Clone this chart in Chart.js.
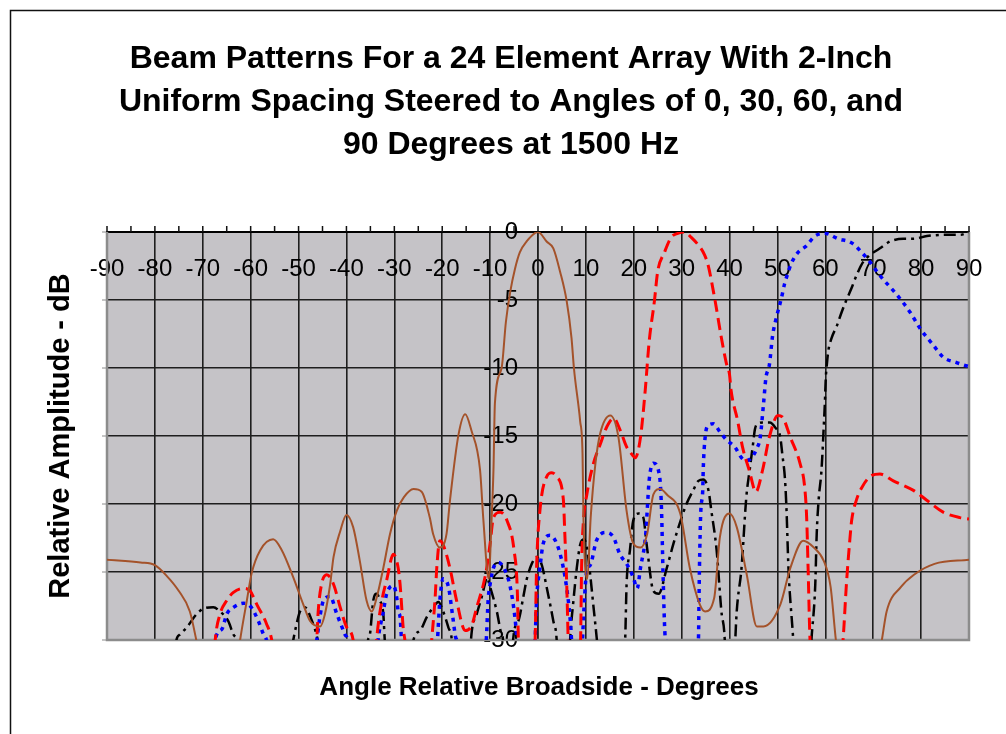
<!DOCTYPE html>
<html lang="en">
<head>
<meta charset="UTF-8">
<title>Beam Patterns</title>
<script src="https://cdn.jsdelivr.net/npm/chart.js"></script>
<style>
  html, body { margin: 0; padding: 0; background: #fff; }
  canvas { display: block; }
</style>
</head>
<body>
<canvas id="beamChart" width="1006" height="734"></canvas>
<script>
// values: [angle in degrees, relative amplitude in dB]
// points below -30 dB are only there so the line dives out of the plot at the nulls
const steer0 = [
  [-90,-24.1],[-83,-24.3],[-80,-24.5],[-77.5,-25.3],[-75,-26.4],[-72.7,-27.9],[-71.3,-30.1],[-66,-40],
  [-62.2,-30],[-60.8,-27.1],[-59.8,-25.1],[-58,-23.4],[-55.3,-22.6],[-53.5,-23.4],[-51.1,-25.4],[-49,-27.4],
  [-47.6,-28.6],[-45.5,-29],[-44.5,-28.1],[-43.4,-25.9],[-42.7,-23.9],[-41.3,-22],[-40,-20.8],[-38.6,-21.7],
  [-37.2,-24.2],[-35.8,-27.1],[-34.7,-27.9],[-33.7,-26.9],[-32.3,-24.7],[-30.9,-22.2],[-29.5,-20.5],[-28,-19.5],
  [-26,-18.9],[-24.3,-19.1],[-22.6,-21],[-21.9,-22.2],[-20.5,-23.2],[-19.1,-22.2],[-18.4,-19.8],[-16.6,-14.9],
  [-15.2,-13.4],[-13.9,-14.6],[-12.1,-17.5],[-11.4,-21.2],[-10.3,-25.5],[-9.7,-21.2],[-9.3,-17.5],[-9,-12.6],
  [-7.6,-10],[-6.7,-6.6],[-5.8,-4.4],[-4.8,-2.7],[-3.8,-1.5],[-2.4,-0.7],[0,0],[1.8,-0.7],[3.2,-1.2],
  [4.6,-2.9],[6,-5.1],[7,-7.8],[7.5,-10],[8.8,-13.9],[9.3,-16.3],[9.5,-21.2],[10.3,-25.5],[11,-21],[12,-17],
  [13,-14.8],[15.1,-13.5],[16.8,-15.1],[18.5,-20.5],[19.9,-22.9],[21.4,-23.2],[22.8,-22.2],[24.1,-19.3],
  [25.5,-18.9],[26.9,-19.3],[29.7,-20.7],[31.7,-24.7],[33.8,-27.4],[34.9,-27.9],[36.8,-26.9],[38,-22.4],
  [40,-20.7],[41.5,-21.7],[43.6,-25.2],[45.7,-29],[47.1,-29],[50.6,-27.4],[52.7,-24.7],[55.4,-22.7],
  [57.6,-23.2],[59.7,-24.2],[61.1,-26.1],[62.2,-30],[66,-40],[71.8,-30],[72.8,-27.9],[75.8,-26.1],
  [78.5,-25.2],[82.8,-24.4],[90,-24.1]
];

const steer30 = [
  [-70,-45],[-67.4,-30],[-66.4,-28.1],[-65,-27.1],[-63.6,-26.5],[-61.5,-26.2],[-60.1,-26.4],[-58.7,-27.4],
  [-56.7,-28.8],[-55.6,-30],[-51,-42],[-46.2,-30],[-45.9,-27.9],[-45.2,-25.9],[-44.1,-25.2],[-42.7,-25.9],
  [-41.3,-27.6],[-39.9,-29.1],[-38.6,-30],[-36,-42],[-33.7,-30],[-32.6,-27.1],[-31.6,-25.6],[-30.2,-23.7],
  [-29.2,-24.7],[-28.8,-25.9],[-28.1,-29.3],[-27.8,-30],[-25,-42],[-22.2,-30],[-21.5,-27],[-21.1,-24.5],
  [-20.5,-22.7],[-19.8,-23],[-18.4,-24.7],[-17,-27.1],[-15.2,-29.3],[-13.8,-28.9],[-12.8,-27.6],[-11.4,-25.9],
  [-10.7,-24.7],[-10,-22.9],[-9.3,-21],[-7.9,-20.6],[-6.5,-21.2],[-5,-23.4],[-4.3,-26.6],[-4.1,-30],
  [-2.4,-42],[-0.6,-30],[-0.3,-24.7],[0.4,-20.5],[1.8,-18],[2.9,-17.7],[3.9,-18],[5.3,-19.7],[5.6,-22.2],
  [6,-25.9],[6.3,-30],[7.6,-42],[8.9,-30],[9.1,-24.7],[9.5,-21.2],[10.2,-19.3],[11.6,-17],[13,-15.6],
  [14.4,-14.3],[15.8,-13.7],[17.2,-14.6],[18.5,-15.8],[19.3,-16.2],[20.3,-16.6],[21.4,-15.1],[22.4,-11.6],
  [23.2,-8.1],[24.3,-5.1],[25,-2.9],[26.4,-1.5],[27.8,-0.4],[29.2,-0.1],[30.6,0],[32,-0.4],[34,-1.2],
  [34.8,-1.7],[35.5,-2.4],[36.9,-4.9],[38.3,-7.8],[39.3,-9.6],[40,-10.5],[40.3,-11.6],[41.7,-13.9],
  [42.7,-15.8],[44.1,-17.5],[45.5,-19.1],[46.9,-17.5],[48.3,-15.1],[50.1,-13.5],[51,-13.6],[52.7,-15.1],
  [54.7,-17],[55.7,-18.8],[56.1,-21],[56.4,-24.7],[56.8,-30],[60,-42],[63.7,-30],[64.4,-25.9],[65.1,-22.7],
  [65.5,-21.2],[66.5,-19.7],[67.6,-18.8],[69.7,-17.9],[71.4,-17.8],[74.2,-18.3],[78.4,-19],[81.1,-19.7],
  [84.6,-20.6],[88.1,-21],[90,-21.1]
];

const steer60 = [
  [-70,-45],[-67.4,-30],[-66,-29.2],[-65,-28.1],[-63.6,-27.6],[-61.5,-27.3],[-60.1,-27.5],[-58.4,-28.6],
  [-57.3,-29.6],[-56.7,-30],[-51.5,-42],[-46.2,-30],[-45.5,-28.2],[-44.8,-27.1],[-43.4,-26.8],[-42,-28.1],
  [-40.3,-29.6],[-39.8,-30],[-36.5,-42],[-33.4,-30],[-32.3,-27.9],[-31.6,-26.6],[-30.2,-26],[-29.5,-26.9],
  [-29.2,-27.9],[-28.8,-28.3],[-28.5,-30],[-24.5,-42],[-21,-30],[-20.5,-27.1],[-19.8,-25.5],[-18.7,-26.1],
  [-17.8,-28.3],[-17.2,-29.8],[-17,-30],[-14,-42],[-10.8,-30],[-10.4,-27],[-10,-25.9],[-9.3,-24.7],
  [-8.3,-24.3],[-7,-24.8],[-5.8,-26.1],[-4.8,-28.4],[-4.4,-30],[-2.5,-42],[-0.6,-30],[-0.3,-27.1],
  [0.4,-24.7],[1.1,-22.9],[2.5,-22.3],[3.9,-22.9],[5.3,-24.7],[6,-26.2],[6.7,-28.4],[7,-30],[8.2,-42],
  [9.3,-30],[10.2,-24.9],[10.9,-24.5],[12.2,-22.7],[14,-22.1],[15.7,-22.4],[17.1,-23.7],[18.5,-24.4],
  [19.9,-25.4],[20.7,-26.2],[21.4,-24.7],[22.5,-22.2],[22.8,-20.5],[23.2,-18.3],[24.1,-17],[25.4,-18],
  [25.8,-20.5],[26.1,-25],[26.5,-29.5],[26.7,-30],[30,-42],[33.5,-30],[33.7,-25],[34,-20.5],[34.4,-19],
  [34.5,-17.5],[34.9,-15.1],[35.6,-14.2],[36.6,-14.1],[38,-14.7],[39.4,-15.3],[41.1,-15.8],[42.5,-16.6],
  [43.6,-16.8],[44.6,-16.6],[45.7,-15.9],[46.4,-15.1],[47.1,-12.6],[47.6,-10.7],[48.3,-9.8],[49,-7.6],
  [49.7,-6.4],[50.8,-4.9],[51.5,-3.8],[52.2,-3],[52.9,-2.3],[54.3,-1.5],[56.1,-1],[57.8,-0.3],[59.9,-0.1],
  [62.7,-0.5],[65.5,-0.8],[67.6,-1.5],[69.3,-2.2],[71.4,-3.2],[74.9,-4.6],[77.7,-5.9],[79.8,-7.1],
  [82.5,-8.3],[84.6,-9.2],[87.4,-9.6],[90,-9.9]
];

const steer90 = [
  [-80,-45],[-75.5,-30],[-74.8,-29.6],[-73.4,-29.1],[-71.3,-28.1],[-69.9,-27.7],[-67.8,-27.6],[-66.4,-27.9],
  [-64.7,-28.6],[-63.6,-29.6],[-62.9,-30],[-57,-42],[-51.1,-30],[-50.4,-28.8],[-49.7,-27.9],[-48.7,-27.6],
  [-47.3,-28.5],[-46,-30],[-40.5,-42],[-35.5,-30],[-35.1,-29.6],[-34.4,-27.1],[-33.7,-26.6],[-33,-27.1],
  [-32.3,-28.1],[-32,-30],[-29,-42],[-26,-30],[-24.6,-29.3],[-23.2,-28.3],[-21.9,-27.6],[-20.8,-27.2],
  [-19.8,-27.9],[-18.7,-29.1],[-18,-30],[-16,-42],[-13.9,-29.6],[-12.8,-28.1],[-11.8,-26.9],[-11.1,-25.9],
  [-10.7,-25.4],[-10,-26.1],[-8.6,-27.9],[-7.6,-29.6],[-7.3,-30],[-6.2,-42],[-5.2,-30],[-4.1,-28.6],
  [-3.1,-26.9],[-2.4,-25.6],[-1.3,-24.4],[-0.3,-23.9],[0.8,-24.5],[1.8,-26.1],[3.2,-28.6],[3.9,-30],
  [5.3,-42],[6.7,-30],[7.4,-27.1],[8.1,-24.7],[8.8,-23],[9.6,-22.6],[10.2,-23.2],[10.9,-25.2],[11.6,-27.6],
  [12.3,-30],[15.2,-42],[18.2,-30],[18.5,-25.9],[19.2,-23.4],[19.9,-21.2],[21,-20.7],[22,-21],[22.7,-23],
  [24.1,-26.4],[25.2,-26.6],[26.9,-24.7],[28.3,-22.9],[29.8,-21.2],[31,-20],[32.4,-19],[33.5,-18.3],
  [34.5,-18.2],[35.6,-19],[36.2,-20.5],[37.3,-23.4],[38.3,-27.9],[39,-30],[40.1,-42],[41.2,-30],
  [41.5,-27.9],[42.5,-24.7],[43.5,-19.5],[44.2,-17.5],[44.9,-15.6],[45.3,-14.5],[45.9,-14.1],[47,-14],
  [48.4,-14],[49.6,-14.4],[50.6,-15.1],[51,-16.3],[51.6,-18.3],[51.9,-20.5],[52.3,-24.7],[53.3,-30],
  [55.2,-42],[57.1,-30],[57.9,-25.9],[58.2,-22.2],[58.6,-19.7],[59.2,-17.5],[59.7,-14.1],[59.9,-12.6],
  [60.1,-10.7],[60.3,-9.8],[60.6,-8.8],[61.3,-7.8],[62.4,-6.9],[63.4,-5.9],[64.4,-5],[65.5,-4.1],
  [66.5,-3.2],[67.9,-2.2],[69.3,-1.7],[71.4,-1.2],[73.5,-0.7],[76.3,-0.5],[78.4,-0.5],[81.2,-0.3],
  [85.3,-0.2],[88.2,-0.2],[90,0]
];

const titleLines = [
  'Beam Patterns For a 24 Element Array With 2-Inch',
  'Uniform Spacing Steered to Angles of 0, 30, 60, and',
  '90 Degrees at 1500 Hz'
];
const xTitle = 'Angle Relative Broadside - Degrees';
const yTitle = 'Relative Amplitude - dB';

const FONT = '"Liberation Sans", Arial, sans-serif';

function toPoints(pairs) {
  return pairs.map(p => ({ x: p[0], y: p[1] }));
}

// plot background, frame, outside tick marks and the titles
const decor = {
  id: 'decor',
  beforeDraw(chart) {
    const { ctx, chartArea: a } = chart;
    ctx.save();
    ctx.fillStyle = '#fff';
    ctx.fillRect(0, 0, chart.width, chart.height);
    ctx.strokeStyle = '#111';
    ctx.lineWidth = 1.5;
    ctx.strokeRect(10.5, 10.5, chart.width + 20, chart.height + 20);
    ctx.fillStyle = '#c5c3c7';
    ctx.fillRect(a.left, a.top, a.right - a.left, a.bottom - a.top);
    ctx.restore();
  },
  beforeDatasetsDraw(chart) {
    const { ctx, chartArea: a, scales } = chart;
    ctx.save();
    ctx.strokeStyle = '#8c8c8c';
    ctx.lineWidth = 2.5;
    ctx.beginPath();
    ctx.moveTo(a.left, a.top);
    ctx.lineTo(a.left, a.bottom);
    ctx.lineTo(a.right, a.bottom);
    ctx.lineTo(a.right, a.top);
    ctx.stroke();
    // small ticks on the left edge
    ctx.lineWidth = 1.2;
    ctx.beginPath();
    for (let v = -30; v <= 0; v += 5) {
      const py = scales.y.getPixelForValue(v);
      ctx.moveTo(a.left - 5, py);
      ctx.lineTo(a.left, py);
    }
    ctx.stroke();
    // ticks above the top axis every 5 degrees
    ctx.strokeStyle = '#111';
    ctx.lineWidth = 1.5;
    ctx.beginPath();
    for (let v = -90; v <= 90; v += 5) {
      const px = scales.x.getPixelForValue(v);
      ctx.moveTo(px, a.top - 6);
      ctx.lineTo(px, a.top);
    }
    ctx.stroke();
    ctx.restore();
  },
  afterDraw(chart) {
    const { ctx } = chart;
    ctx.save();
    ctx.fillStyle = '#000';
    ctx.textAlign = 'center';
    ctx.textBaseline = 'alphabetic';
    ctx.font = 'bold 32px ' + FONT;
    titleLines.forEach((line, i) => ctx.fillText(line, 511, 68 + i * 43));
    ctx.font = 'bold 26px ' + FONT;
    ctx.fillText(xTitle, 539, 695);
    ctx.translate(69, 436);
    ctx.rotate(-Math.PI / 2);
    ctx.font = 'bold 29px ' + FONT;
    ctx.fillText(yTitle, 0, 0);
    ctx.restore();
  }
};

const ctx = document.getElementById('beamChart').getContext('2d');
new Chart(ctx, {
  type: 'line',
  data: {
    datasets: [
      {
        label: '0 deg',
        data: toPoints(steer0),
        borderColor: '#a4522a',
        borderWidth: 2
      },
      {
        label: '30 deg',
        data: toPoints(steer30),
        borderColor: '#ff0000',
        borderWidth: 3,
        borderDash: [12, 6]
      },
      {
        label: '60 deg',
        data: toPoints(steer60),
        borderColor: '#0000ff',
        borderWidth: 3.5,
        borderDash: [4, 5]
      },
      {
        label: '90 deg',
        data: toPoints(steer90),
        borderColor: '#000000',
        borderWidth: 2.5,
        borderDash: [12, 5, 3, 5]
      }
    ]
  },
  options: {
    responsive: false,
    animation: false,
    devicePixelRatio: 1,
    layout: { padding: { left: 107, top: 232, right: 37, bottom: 94 } },
    elements: {
      point: { radius: 0, hoverRadius: 0 },
      line: { cubicInterpolationMode: 'monotone', fill: false }
    },
    plugins: {
      legend: { display: false },
      tooltip: { enabled: false },
      title: { display: false }
    },
    scales: {
      x: {
        type: 'linear',
        position: { y: 0 },
        min: -90,
        max: 90,
        ticks: {
          stepSize: 10,
          autoSkip: false,
          maxRotation: 0,
          padding: 23,
          color: '#000',
          font: { family: FONT, size: 24 },
          callback: v => String(v)
        },
        grid: { color: '#1e1e1e', lineWidth: 1.6, drawTicks: false },
        border: { display: true, color: '#000', width: 2 }
      },
      y: {
        type: 'linear',
        position: { x: 0 },
        min: -30,
        max: 0,
        ticks: {
          stepSize: 5,
          color: '#000',
          font: { family: FONT, size: 24 },
          callback: v => v + '   '
        },
        grid: { color: '#1e1e1e', lineWidth: 1.6, drawTicks: false },
        border: { display: true, color: '#1e1e1e', width: 1.6 }
      }
    }
  },
  plugins: [decor]
});
</script>
</body>
</html>
